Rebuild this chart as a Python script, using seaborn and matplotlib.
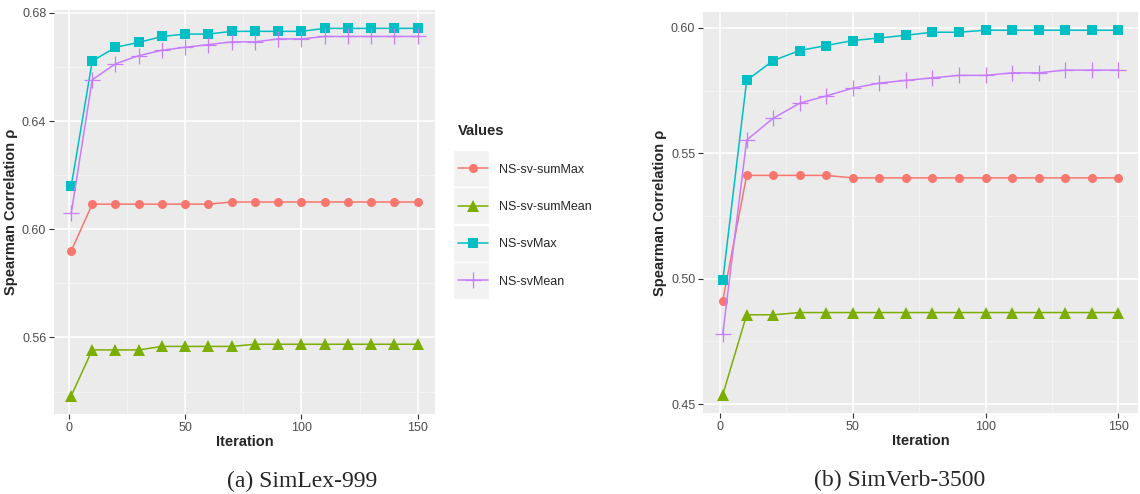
import numpy as np
import pandas as pd
import seaborn as sns
import matplotlib.pyplot as plt
from matplotlib.patches import Rectangle

# data
iterations = [1, 10, 20, 30, 40, 50, 60, 70, 80, 90, 100, 110, 120, 130, 140, 150]
series_names = ['NS-sv-sumMax', 'NS-sv-sumMean', 'NS-svMax', 'NS-svMean']

simlex_sum_max = [0.5921, 0.6093, 0.6093, 0.6093, 0.6093, 0.6093, 0.6093, 0.6101,
                  0.6101, 0.6101, 0.6101, 0.6101, 0.6101, 0.6101, 0.6101, 0.6101]
simlex_sum_mean = [0.5385, 0.5554, 0.5554, 0.5554, 0.5567, 0.5567, 0.5567, 0.5567,
                   0.5575, 0.5575, 0.5575, 0.5575, 0.5575, 0.5575, 0.5575, 0.5575]
simlex_max = [0.6161, 0.6622, 0.6673, 0.6691, 0.6713, 0.6722, 0.6722, 0.6732,
              0.6732, 0.6732, 0.6732, 0.6743, 0.6743, 0.6743, 0.6743, 0.6743]
simlex_mean = [0.6062, 0.6553, 0.6612, 0.6642, 0.6662, 0.6673, 0.6683, 0.6693,
               0.6693, 0.6704, 0.6704, 0.6713, 0.6713, 0.6713, 0.6713, 0.6713]

simverb_sum_max = [0.4913, 0.5412, 0.5412, 0.5412, 0.5412, 0.5402, 0.5402, 0.5402,
                   0.5402, 0.5402, 0.5402, 0.5402, 0.5402, 0.5402, 0.5402, 0.5402]
simverb_sum_mean = [0.4537, 0.4856, 0.4856, 0.4865, 0.4865, 0.4865, 0.4865, 0.4865,
                    0.4865, 0.4865, 0.4865, 0.4865, 0.4865, 0.4865, 0.4865, 0.4865]
simverb_max = [0.4993, 0.5791, 0.5870, 0.5910, 0.5930, 0.5950, 0.5960, 0.5971,
               0.5983, 0.5983, 0.5991, 0.5991, 0.5991, 0.5991, 0.5991, 0.5991]
simverb_mean = [0.4780, 0.5553, 0.5640, 0.5700, 0.5729, 0.5760, 0.5780, 0.5791,
                0.5801, 0.5811, 0.5811, 0.5821, 0.5821, 0.5832, 0.5832, 0.5832]

left_yticks = [0.56, 0.60, 0.64, 0.68]
right_yticks = [0.45, 0.50, 0.55, 0.60]
xticks = [0, 50, 100, 150]


def to_long(cols):
    frames = []
    for name, vals in zip(series_names, cols):
        frames.append(pd.DataFrame({'Iteration': iterations, 'rho': vals, 'Values': name}))
    return pd.concat(frames, ignore_index=True)


df_simlex = to_long([simlex_sum_max, simlex_sum_mean, simlex_max, simlex_mean])
df_simverb = to_long([simverb_sum_max, simverb_sum_mean, simverb_max, simverb_mean])

colors = ['#F8766D', '#7CAE00', '#00BFC4', '#C77CFF']
markers = ['o', '^', 's', '+']
msizes = [6.5, 8, 7, 11]

sns.set_style('darkgrid', {'axes.facecolor': '#EBEBEB', 'grid.color': 'white'})
plt.rcParams['font.family'] = ['Liberation Sans', 'DejaVu Sans']

fig = plt.figure(figsize=(11.4, 4.94), dpi=100)
W, H = 1140, 494
ax1 = fig.add_axes([54 / W, 80 / H, 381 / W, 404 / H])
ax2 = fig.add_axes([703 / W, 81 / H, 435 / W, 401 / H])


def draw(ax, df, yticks, minor_y):
    for name, c, m, ms in zip(series_names, colors, markers, msizes):
        sub = df[df['Values'] == name]
        sns.lineplot(data=sub, x='Iteration', y='rho', color=c, marker=m,
                     markersize=ms, markeredgewidth=0.9 if m == '+' else 0,
                     markeredgecolor=c, markerfacecolor=c,
                     linewidth=1.1, ax=ax, label=name, legend=False)
    lo, hi = df['rho'].min(), df['rho'].max()
    pad = (hi - lo) * 0.05
    ax.set_ylim(lo - pad, hi + pad)
    ax.set_xlim(1 - 149 * 0.05, 150 + 149 * 0.05)
    ax.set_xticks(xticks)
    ax.set_yticks(yticks)
    ax.set_xticks([25, 75, 125], minor=True)
    ax.set_yticks(minor_y, minor=True)
    ax.grid(which='major', color='white', linewidth=1.1)
    ax.grid(which='minor', color='#F5F5F5', linewidth=0.6)
    ax.set_yticklabels([f'{t:.2f}' for t in yticks])
    ax.tick_params(which='major', length=3.5, width=0.8, color='#333333',
                   labelcolor='#4D4D4D', labelsize=9, pad=2, left=True, bottom=True)
    ax.tick_params(which='minor', length=0)
    ax.set_xlabel('Iteration', fontsize=10.5, fontweight='bold', labelpad=1)
    ax.set_ylabel('Spearman Correlation ρ', fontsize=10.5, fontweight='bold', labelpad=3)
    for s in ax.spines.values():
        s.set_visible(False)
    ax.set_axisbelow(True)


draw(ax1, df_simlex, left_yticks, [0.54, 0.58, 0.62, 0.66])
draw(ax2, df_simverb, right_yticks, [0.475, 0.525, 0.575])

# legend in the middle
handles, labels = ax1.get_legend_handles_labels()
leg = fig.legend(handles, labels, title='Values', loc='upper left',
                 bbox_to_anchor=(452 / W, 1 - 118 / H), frameon=False,
                 fontsize=9, title_fontsize=10.5, handlelength=2.35,
                 labelspacing=2.03, handletextpad=0.9, borderpad=0)
leg.get_title().set_fontweight('bold')
leg._legend_box.align = 'left'
for i in range(4):
    yc = 168 + 37.5 * i
    fig.patches.append(Rectangle((453 / W, 1 - (yc + 18.5) / H), 36 / W, 37 / H,
                                 transform=fig.transFigure, facecolor='#F2F2F2',
                                 edgecolor='white', linewidth=1, zorder=0))

fig.text(302 / W, 1 - 481 / H, '(a) SimLex-999', ha='center', va='center',
         fontsize=17, family=['Liberation Serif', 'DejaVu Serif'])
fig.text(900 / W, 1 - 480 / H, '(b) SimVerb-3500', ha='center', va='center',
         fontsize=17, family=['Liberation Serif', 'DejaVu Serif'])

fig.savefig('out.png', dpi=100)
